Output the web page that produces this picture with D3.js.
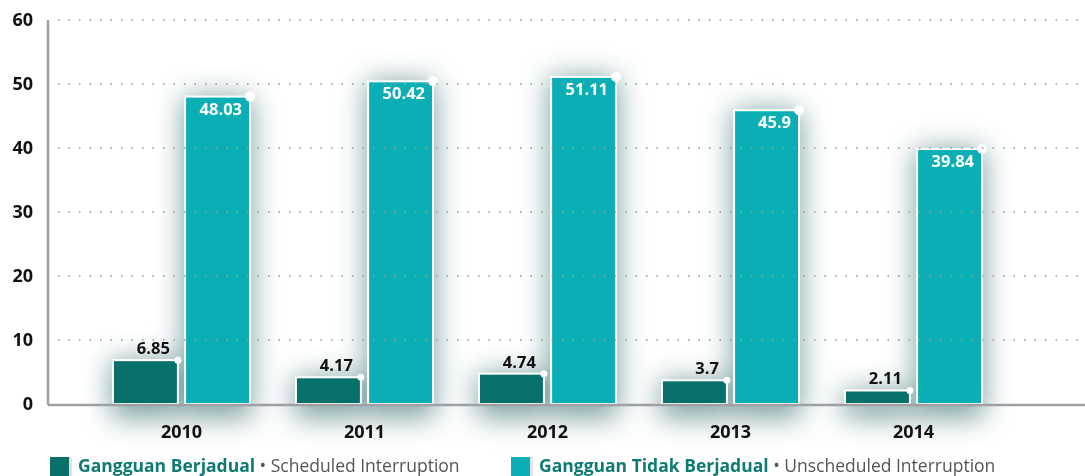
<!DOCTYPE html>
<html><head><meta charset="utf-8">
<script src="https://cdn.jsdelivr.net/npm/d3@7"></script>
<style>body{margin:0;background:#fff}svg{display:block;font-family:"Open Sans",Lato,sans-serif}</style>
</head><body><svg id="c" width="1085" height="476"></svg>
<script>
const years = ["2010","2011","2012","2013","2014"];
const scheduled = [6.85, 4.17, 4.74, 3.7, 2.11];
const unscheduled = [48.03, 50.42, 51.11, 45.9, 39.84];
const yTicks = [0,10,20,30,40,50,60];
const seriesNames = ["Gangguan Berjadual","Gangguan Tidak Berjadual"];
const seriesEn = ["Scheduled Interruption","Unscheduled Interruption"];
const colors = ["#07706b","#0aafb6"];

const svg = d3.select("#c");
const y = d3.scaleLinear().domain([0,60]).range([404,20]);
const x = d3.scaleBand().domain(years).range([48,1047]).paddingInner(0.251).paddingOuter(0.355);
const xi = d3.scaleBand().domain([0,1]).range([0,x.bandwidth()]).paddingInner(0.1);

const defs = svg.append("defs");
const f = defs.append("filter").attr("id","bl").attr("filterUnits","userSpaceOnUse")
  .attr("x",0).attr("y",0).attr("width",1085).attr("height",476);
f.append("feGaussianBlur").attr("stdDeviation",14);

const data = years.map((yr,i)=>({yr, v:[scheduled[i],unscheduled[i]]}));
const sh = svg.append("g").attr("filter","url(#bl)").attr("opacity",0.7);
const g = svg.append("g").selectAll("g").data(data).join("g").attr("transform",d=>`translate(${x(d.yr)},0)`);
// shadows
sh.selectAll("g").data(data).join("g").attr("transform",d=>`translate(${x(d.yr)},0)`)
  .each(function(d){
    const gg = d3.select(this);
    [0,1].forEach(s=>{
      gg.append("rect").attr("x",xi(s)-2).attr("width",xi.bandwidth()+4)
        .attr("y",y(d.v[s])).attr("height",y(0)-y(d.v[s])+14).attr("fill","#4a7a7d");
    });
  });
[0,1].forEach(s=>{
  g.append("rect").attr("x",xi(s)).attr("width",xi.bandwidth())
    .attr("y",d=>y(d.v[s])).attr("height",d=>y(0)-y(d.v[s]))
    .attr("fill",colors[s]).attr("stroke","#fff").attr("stroke-width",2);
});

// grid (drawn over bars)
svg.append("g").selectAll("line").data(yTicks.filter(d=>d>0)).join("line")
  .attr("x1",58).attr("x2",1085).attr("y1",d=>y(d)).attr("y2",d=>y(d))
  .attr("stroke","#9a9a9a").attr("stroke-opacity",0.8).attr("stroke-width",2).attr("stroke-dasharray","1.5 9");

[0,1].forEach(s=>{
  g.append("circle").attr("cx",xi(s)+xi.bandwidth()).attr("cy",d=>y(d.v[s])).attr("r",s?5:3.5).attr("fill","#fff");
});
g.append("text").attr("x",xi(0)+xi.bandwidth()-8).attr("y",d=>y(d.v[0])-6).attr("text-anchor","end")
  .attr("font-size",16.5).attr("font-weight",700).attr("fill","#111").text(d=>d.v[0]);
g.append("text").attr("x",xi(1)+xi.bandwidth()-8).attr("y",d=>y(d.v[1])+18).attr("text-anchor","end")
  .attr("font-size",16.5).attr("font-weight",700).attr("fill","#fff").text(d=>d.v[1]);

// y tick labels
svg.append("g").selectAll("text").data(yTicks).join("text")
  .attr("x",33).attr("y",d=>y(d)+6).attr("text-anchor","end")
  .attr("font-size",18).attr("font-weight",700).attr("fill","#111").text(d=>d);

// axes lines
svg.append("line").attr("x1",48).attr("x2",48).attr("y1",20).attr("y2",405).attr("stroke","#a0a0a4").attr("stroke-width",2.5);
svg.append("line").attr("x1",48).attr("x2",1085).attr("y1",405).attr("y2",405).attr("stroke","#a0a0a4").attr("stroke-width",2.5);

// x labels
svg.append("g").selectAll("text").data(years).join("text")
  .attr("x",d=>x(d)+x.bandwidth()/2).attr("y",438).attr("text-anchor","middle")
  .attr("font-size",18).attr("font-weight",700).attr("fill","#111").text(d=>d);

// legend
const lx = [50,511];
seriesNames.forEach((n,i)=>{
  const lg = svg.append("g").attr("transform",`translate(${lx[i]},457)`);
  lg.append("rect").attr("width",19).attr("height",19).attr("fill",colors[i]);
  lg.append("rect").attr("x",19).attr("width",3).attr("height",19).attr("fill","#dfe3e3");
  const t = lg.append("text").attr("x",28).attr("y",15).attr("font-size",17.5);
  t.append("tspan").attr("font-weight",700).attr("fill","#0d7a74").text(n);
  t.append("tspan").attr("fill","#555").text(" • "+seriesEn[i]);
});
</script></body></html>
